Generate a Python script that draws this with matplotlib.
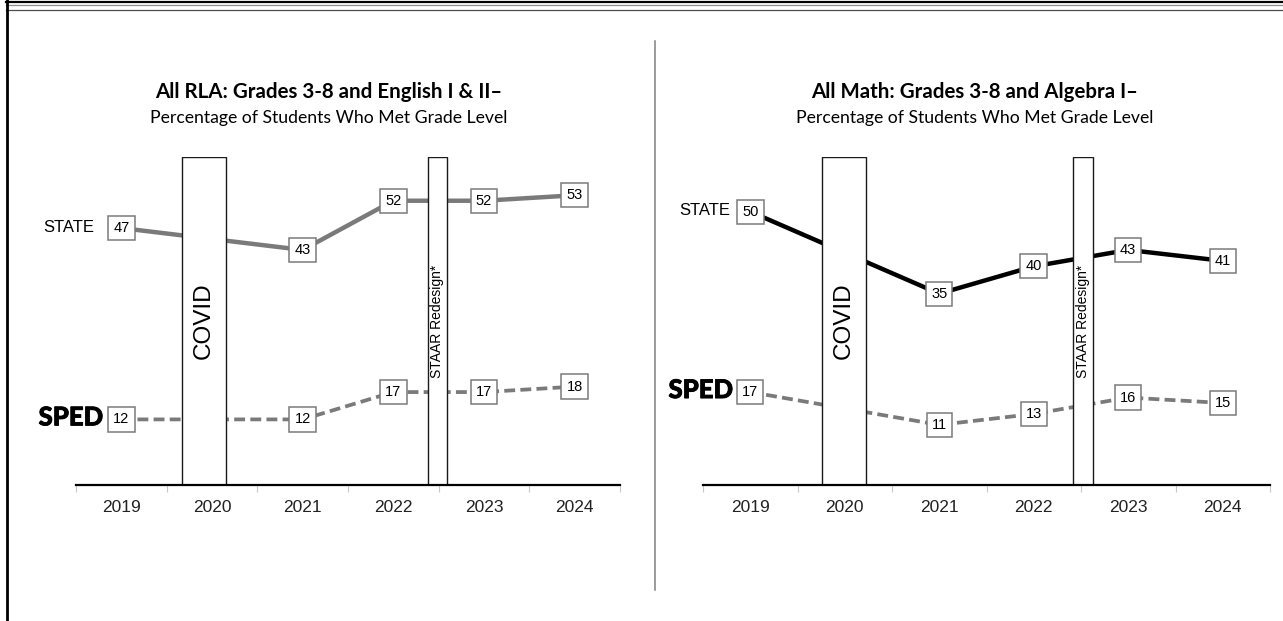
import numpy as np
import matplotlib.pyplot as plt
import matplotlib.patheffects as pe
from matplotlib.lines import Line2D
from matplotlib.patches import Rectangle

years = ["2019", "2020", "2021", "2022", "2023", "2024"]
rla_state = [47, np.nan, 43, 52, 52, 53]
rla_sped = [12, np.nan, 12, 17, 17, 18]
math_state = [50, np.nan, 35, 40, 43, 41]
math_sped = [17, np.nan, 11, 13, 16, 15]

rla_title = "All RLA: Grades 3-8 and English I & II–"
math_title = "All Math: Grades 3-8 and Algebra I–"
subtitle = "Percentage of Students Who Met Grade Level"

W, H = 1283, 621
plt.rcParams["font.family"] = ["Liberation Sans", "DejaVu Sans"]
fig = plt.figure(figsize=(W / 100, H / 100), dpi=100)


def fx(x):
    return x / W


def fy(y):
    return 1 - y / H


def panel(left, width, state, sped, state_color, covid, staar, name_dx):
    ax = fig.add_axes([fx(left), fy(485), fx(width), 328 / H])
    x = np.arange(len(years))
    ax.set_xlim(-0.5, len(years) - 0.5)
    ax.set_ylim(0, 60)
    for s in ["top", "left", "right"]:
        ax.spines[s].set_visible(False)
    ax.spines["bottom"].set_linewidth(1.6)
    ax.spines["bottom"].set_zorder(6)
    ax.set_yticks([])
    ax.set_xticks(np.arange(len(years) + 1) - 0.5)
    ax.set_xticklabels([])
    ax.tick_params(axis="x", which="major", length=5, width=0.8, color="#c8c8c8")
    ax.set_xticks(x, minor=True)
    ax.set_xticklabels(years, minor=True, fontsize=12.5, color="#222222")
    ax.tick_params(axis="x", which="minor", length=0, pad=11)

    state = np.array(state, dtype=float)
    sped = np.array(sped, dtype=float)
    m = ~np.isnan(state)
    ax.plot(x[m], state[m], color=state_color, lw=3.2, zorder=2,
            solid_capstyle="butt")
    m2 = ~np.isnan(sped)
    ax.plot(x[m2], sped[m2], color="#7a7a7a", lw=2.7, zorder=2,
            dashes=(2.9, 1.4))

    box = dict(boxstyle="square,pad=0.35", fc="white", ec="#7a7a7a", lw=1.1)
    for xi, v in zip(x[m], state[m]):
        ax.text(xi, v, f"{v:.0f}", ha="center", va="center", fontsize=10.5,
                bbox=box, zorder=5)
    for xi, v in zip(x[m2], sped[m2]):
        ax.text(xi, v, f"{v:.0f}", ha="center", va="center", fontsize=10.5,
                bbox=box, zorder=5)

    # blocked-out periods
    for (a, b), label, size in [(covid, "COVID", 17.5), (staar, "STAAR Redesign*", 10)]:
        ax.add_patch(Rectangle((a, 0), b - a, 60, fc="white", ec="#1a1a1a",
                               lw=1.0, zorder=4))
        ax.text((a + b) / 2, 30, label, rotation=90, ha="center", va="center",
                fontsize=size, zorder=5)

    ax.annotate("STATE", (0, state[0]), xytext=(-name_dx[0], 1),
                textcoords="offset pixels", ha="right", va="center",
                fontsize=12)
    ax.annotate("SPED", (0, sped[0]), xytext=(-name_dx[1], 2),
                textcoords="offset pixels", ha="right", va="center",
                fontsize=18.5, fontweight="black", family=["Lato", "DejaVu Sans"],
                path_effects=[pe.withStroke(linewidth=0.6, foreground="black")])
    return ax


panel(76, 544, rla_state, rla_sped, "#7a7a7a", (0.666, 1.151), (3.379, 3.588), (27, 18))
panel(703, 567, math_state, math_sped, "#000000", (0.759, 1.225), (3.415, 3.627), (20, 17))

title_font = ["Lato", "DejaVu Sans"]
for cx, t in [(329, rla_title), (975, math_title)]:
    fig.text(fx(cx), fy(92), t, ha="center", va="center", fontsize=14.8,
             fontweight="bold", family=title_font)
    fig.text(fx(cx), fy(118), subtitle, ha="center", va="center", fontsize=12.7,
             family=title_font)

# page frame and divider
fig.add_artist(Line2D([fx(6), 1], [fy(1.5)] * 2, color="black", lw=1.6))
fig.add_artist(Line2D([fx(6), 1], [fy(5)] * 2, color="#8c8c8c", lw=0.9))
fig.add_artist(Line2D([fx(6), 1], [fy(10)] * 2, color="#4d4d4d", lw=0.9))
fig.add_artist(Line2D([fx(7)] * 2, [0, 1], color="black", lw=2.0))
fig.add_artist(Line2D([fx(654.5)] * 2, [fy(41), fy(590)], color="#808080", lw=1.1))

fig.savefig("out.png", dpi=100)
